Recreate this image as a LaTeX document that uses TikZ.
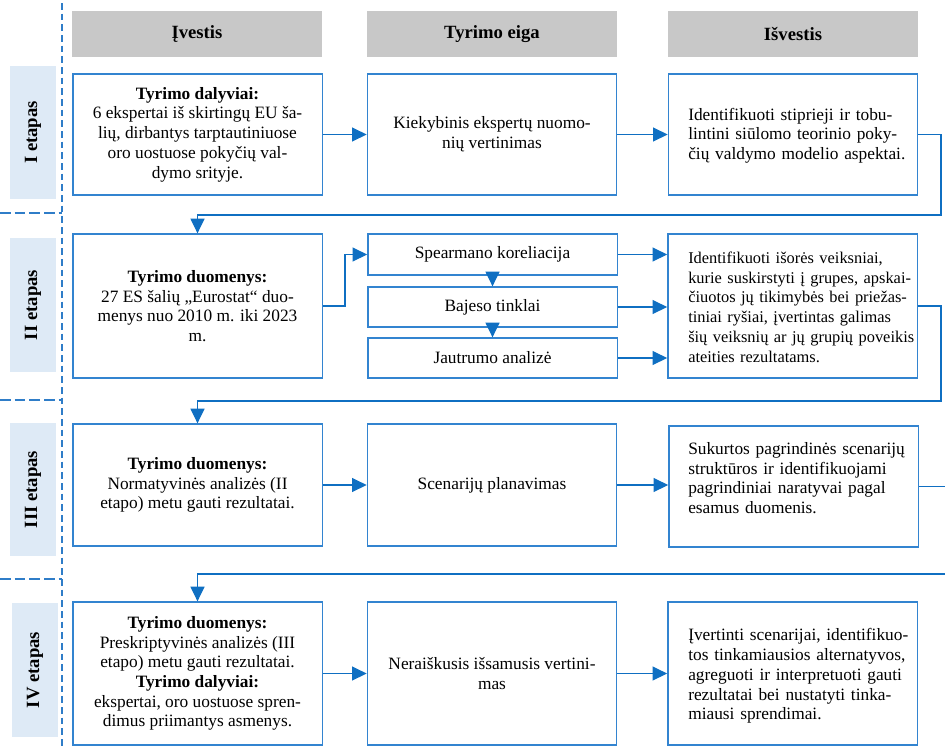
\documentclass[tikz,border=0pt]{standalone}
\usepackage{fontspec}
\setmainfont{Liberation Serif}
\usetikzlibrary{arrows.meta}

\definecolor{boxblue}{HTML}{3384D0}
\definecolor{linkblue}{HTML}{0F6FC2}
\definecolor{dashblue}{HTML}{2F7DC8}
\definecolor{stagefill}{HTML}{DEEAF6}
\definecolor{headgray}{HTML}{C8C8C8}

% one justified line of a fixed-width paragraph
\newcommand{\jline}[1]{\makebox[\hsize][s]{#1}}

\begin{document}
\begin{tikzpicture}[x=0.75pt,y=-0.75pt,
  every node/.style={font=\fontsize{13}{14.8}\selectfont, inner sep=0pt},
  head/.style={fill=headgray, minimum width=187.5pt, minimum height=34.5pt,
    font=\fontsize{14}{16}\selectfont\bfseries},
  stage/.style={fill=stagefill, rotate=90, minimum width=100pt, minimum height=34.5pt,
    font=\fontsize{14}{16}\selectfont\bfseries},
  box/.style={draw=boxblue, line width=1pt, fill=white, align=center},
  colbox/.style={box, minimum width=187pt},
  outtext/.style={anchor=west, align=left},
  link/.style={draw=linkblue, line width=0.9pt, -{Triangle[length=11pt,width=10.5pt]}},
  dashline/.style={draw=dashblue, line width=0.9pt, dash pattern=on 5pt off 3pt}
]
\useasboundingbox (0,0) rectangle (945,747);

% stage separators
\coordinate (d0) at (62,3);
\coordinate (d1) at (62,747);
\draw[dashline] (d0) -- (d1);
\draw[dashline, dash pattern=on 8pt off 3pt] (0,213) -- (62,213);
\draw[dashline, dash pattern=on 8pt off 3pt] (0,400) -- (62,400);
\draw[dashline, dash pattern=on 8pt off 3pt] (0,579) -- (62,579);

% column headers
\node[head] (h1) at (197,34) {Įvestis};
\node[head] (h2) at (492,34) {Tyrimo eiga};
\node[head] (h3) at (793,34) {Išvestis};

% stage labels
\node[stage] (s1) at (33,132.5) {I etapas};
\node[stage] (s2) at (33,305) {II etapas};
\node[stage] (s3) at (33,489.5) {III etapas};
\node[stage] (s4) at (35,670) {IV etapas};

% stage I
\node[colbox, minimum height=90.75pt] (l1) at (197.5,134.5)
  {\textbf{Tyrimo dalyviai:}\\6 ekspertai iš skirtingų EU ša-\\lių, dirbantys tarptautiniuose\\oro uostuose pokyčių val-\\dymo srityje.};
\node[colbox, minimum height=90.75pt] (m1) at (492,134.5)
  {Kiekybinis ekspertų nuomo-\\nių vertinimas};
\node[colbox, minimum height=90.75pt] (r1) at (793,134.5) {};
\node[outtext, text width=165pt] (r1t) at (688,135.5)
  {\jline{Identifikuoti stiprieji ir tobu-}\\\jline{lintini siūlomo teorinio poky-}\\čių valdymo modelio aspektai.};

% stage II
\node[colbox, minimum height=108pt] (l2) at (197.5,306)
  {\textbf{Tyrimo duomenys:}\\27 ES šalių „Eurostat“ duo-\\menys nuo 2010 m. iki 2023\\m.};
\node[colbox, minimum height=30.75pt] (sp) at (492.5,254.5) {Spearmano koreliacija};
\node[colbox, minimum height=30pt] (bj) at (492.5,307) {Bajeso tinklai};
\node[colbox, minimum height=30pt] (ja) at (492.5,358) {Jautrumo analizė};
\node[colbox, minimum height=108pt] (r2) at (792.5,306) {};
\node[outtext, text width=170pt, font=\fontsize{12.3}{14.8}\selectfont] (r2t) at (688,307)
  {\jline{Identifikuoti išorės veiksniai,}\\\jline{kurie suskirstyti į grupes, apskai-}\\\jline{čiuotos jų tikimybės bei priežas-}\\\jline{tiniai ryšiai, įvertintas galimas}\\\jline{šių veiksnių ar jų grupių poveikis}\\ateities rezultatams.};

% stage III
\node[colbox, minimum height=91.5pt] (l3) at (197.5,485)
  {\textbf{Tyrimo duomenys:}\\Normatyvinės analizės (II\\etapo) metu gauti rezultatai.};
\node[colbox, minimum height=91.5pt] (m3) at (492,485) {Scenarijų planavimas};
\node[colbox, minimum height=90.75pt] (r3) at (793.5,486.5) {};
\node[outtext, text width=161pt] (r3t) at (688,478)
  {\jline{Sukurtos pagrindinės scenarijų}\\\jline{struktūros ir identifikuojami}\\\jline{pagrindiniai naratyvai pagal}\\esamus duomenis.};

% stage IV
\node[colbox, minimum height=107.25pt] (l4) at (197.5,673.5)
  {\textbf{Tyrimo duomenys:}\\Preskriptyvinės analizės (III\\etapo) metu gauti rezultatai.\\\textbf{Tyrimo dalyviai:}\\ekspertai, oro uostuose spren-\\dimus priimantys asmenys.};
\node[colbox, minimum height=107.25pt] (m4) at (492,673.5)
  {Neraiškusis išsamusis vertini-\\mas};
\node[colbox, minimum height=107.25pt] (r4) at (792.5,673.5) {};
\node[outtext, text width=172pt] (r4t) at (688,676)
  {\jline{Įvertinti scenarijai, identifikuo-}\\\jline{tos tinkamiausios alternatyvos,}\\\jline{agreguoti ir interpretuoti gauti}\\\jline{rezultatai bei nustatyti tinka-}\\miausi sprendimai.};

% flow inside each stage
\draw[link] (l1.east) -- (m1.west);
\draw[link] (m1.east) -- (r1.west);

\coordinate (j2) at (345,306);
\draw[link] (l2.east) -- (j2) |- (sp.west);
\draw[link] (sp.south) -- (bj.north);
\draw[link] (bj.south) -- (ja.north);
\draw[link] (sp.east) -- (sp.east -| r2.west);
\draw[link] (bj.east) -- (bj.east -| r2.west);
\draw[link] (ja.east) -- (ja.east -| r2.west);

\draw[link] (l3.east) -- (m3.west);
\draw[link] (m3.east) -- (m3.east -| r3.west);

\draw[link] (l4.east) -- (m4.west);
\draw[link] (m4.east) -- (r4.west);

% hand-over from one stage to the next
\coordinate (t1) at (941,215);
\draw[link] (r1.east) -| (t1) -| (l2.north);
\coordinate (t2) at (941,401);
\draw[link] (r2.east) -| (t2) -| (l3.north);
\coordinate (t3) at (952,574);
\draw[link] (r3.east) -| (t3) -| (l4.north);
\end{tikzpicture}
\end{document}
